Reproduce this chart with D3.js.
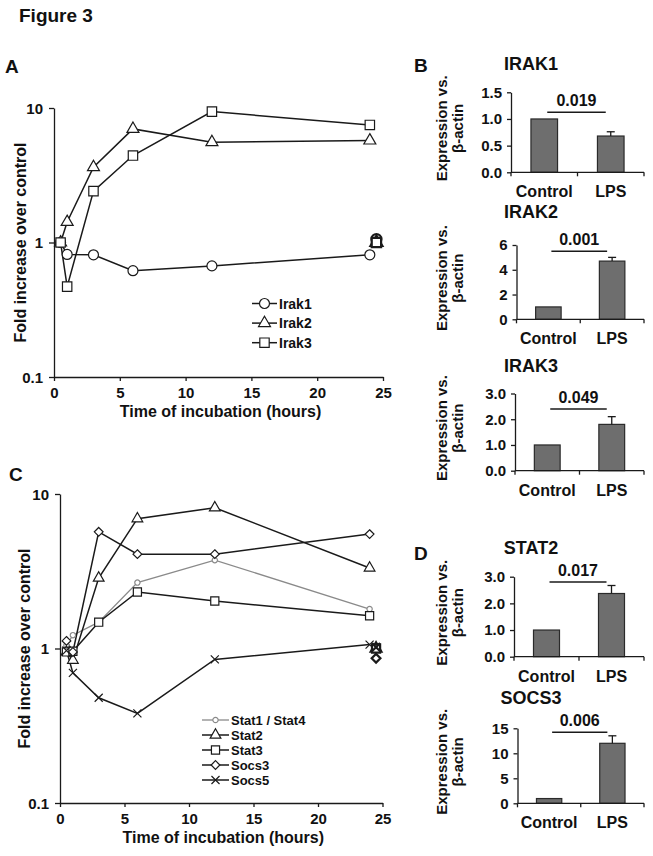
<!DOCTYPE html>
<html><head><meta charset="utf-8">
<script src="https://cdn.jsdelivr.net/npm/d3@7"></script>
<style>
html,body{margin:0;padding:0;background:#fff;}
svg text{font-family:"Liberation Sans",Arial,sans-serif;font-weight:bold;fill:#111;}
</style></head>
<body>
<svg id="fig" width="653" height="856"></svg>
<script>
// ---------- DATA ----------
const hoursA = [0.5, 1, 3, 6, 12, 24];
const irak1 = [1.0, 0.815, 0.81, 0.617, 0.67, 0.81];
const irak2 = [1.0, 1.42, 3.63, 6.99, 5.57, 5.73];
const irak3 = [1.0, 0.47, 2.41, 4.43, 9.4, 7.48];
const seriesNamesA = ["Irak1", "Irak2", "Irak3"];
const controlHour = 24.5;
const controlsA = [1.06, 1.0, 1.0];

const hoursC = [0.5, 1, 3, 6, 12, 24];
const stat1stat4 = [1.05, 1.22, 1.48, 2.67, 3.73, 1.8];
const stat2 = [0.95, 0.84, 2.86, 6.92, 8.15, 3.32];
const stat3 = [0.95, 0.96, 1.48, 2.32, 2.03, 1.63];
const socs3 = [1.12, 0.95, 5.69, 4.08, 4.08, 5.5];
const socs5 = [0.97, 0.695, 0.48, 0.38, 0.85, 1.06];
const seriesNamesC = ["Stat1 / Stat4", "Stat2", "Stat3", "Socs3", "Socs5"];
const controlsC = [1.0, 1.0, 1.0, 0.865, 1.02];

const timeTicks = [0, 5, 10, 15, 20, 25];
const foldTicks = [0.1, 1, 10];

const barGenes = ["IRAK1", "IRAK2", "IRAK3", "STAT2", "SOCS3"];
const barGroups = ["Control", "LPS"];
const controlVals = [1, 1, 1, 1, 0.95];
const lpsVals = [0.68, 4.7, 1.8, 2.37, 12.0];
const lpsErr = [0.08, 0.3, 0.3, 0.3, 1.5];
const pValues = ["0.019", "0.001", "0.049", "0.017", "0.006"];
const sigLevel = [1.125, 5.5, 2.4, 2.8, 14.2];
const barYMax = [1.5, 6, 3, 3, 15];
const barYTicks = [[0, 0.5, 1, 1.5], [0, 2, 4, 6], [0, 1, 2, 3], [0, 1, 2, 3], [0, 5, 10, 15]];
const barYDecimals = [1, 0, 1, 1, 0];

// ---------- DRAW ----------
const svg = d3.select("#fig");
const INK = "#1a1a1a";

svg.append("text").attr("x", 19).attr("y", 22).attr("font-size", 19).text("Figure 3");

function txt(g, x, y, s, size, anchor) {
  return g.append("text").attr("x", x).attr("y", y).attr("font-size", size)
    .attr("text-anchor", anchor || "start").text(s);
}

function marker(g, kind, x, y, opts) {
  const o = Object.assign({size: 1, stroke: INK, sw: 1.2, fill: "#fff"}, opts || {});
  let p;
  if (kind === "circle") p = d3.symbol(d3.symbolCircle, 78 * o.size)();
  else if (kind === "smallcircle") p = d3.symbol(d3.symbolCircle, 22 * o.size)();
  else if (kind === "triangle") p = d3.symbol(d3.symbolTriangle, 62 * o.size)();
  else if (kind === "square") p = d3.symbol(d3.symbolSquare, 88 * o.size)();
  else if (kind === "diamond") { const s = 4.6 * Math.sqrt(o.size); p = `M0,${-s}L${s},0L0,${s}L${-s},0Z`; }
  else if (kind === "x") { const s = 4.5 * Math.sqrt(o.size); p = `M${-s},${-s}L${s},${s}M${-s},${s}L${s},${-s}`; }
  g.append("path").attr("d", p).attr("transform", `translate(${x},${y})`)
    .attr("fill", kind === "x" ? "none" : o.fill).attr("stroke", o.stroke).attr("stroke-width", o.sw);
}

function linePanel(cfg) {
  const g = svg.append("g");
  const x = d3.scaleLinear().domain([0, 25]).range([cfg.x0, cfg.x1]);
  const y = d3.scaleLog().domain([0.1, 10]).range([cfg.yBottom, cfg.yTop]);
  const ax = g.append("g").attr("transform", `translate(0,${cfg.yBottom})`)
    .call(d3.axisBottom(x).tickValues(timeTicks).tickSize(4).tickSizeOuter(0).tickPadding(6).tickFormat(d3.format("d")));
  const ay = g.append("g").attr("transform", `translate(${cfg.x0},0)`)
    .call(d3.axisLeft(y).tickValues(foldTicks).tickSize(5).tickSizeOuter(0).tickPadding(6).tickFormat(d => String(d)));
  [ax, ay].forEach(a => {
    a.selectAll("path,line").attr("stroke", INK).attr("stroke-width", 1.3);
    a.selectAll("text").attr("font-size", 15).attr("font-family", "Liberation Sans, Arial").attr("font-weight", "bold").attr("fill", "#111");
  });
  ay.selectAll("text").attr("dy", "0.35em");
  txt(g, (cfg.x0 + cfg.x1) / 2 + 2, cfg.yBottom + 40, "Time of incubation (hours)", 16, "middle");
  g.append("text").attr("transform", `translate(${cfg.yTitleX},${(cfg.yTop + cfg.yBottom) / 2}) rotate(-90)`)
    .attr("text-anchor", "middle").attr("font-size", 16).text("Fold increase over control");
  txt(g, cfg.labelX, cfg.labelY, cfg.label, 19);

  const line = d3.line().x(d => x(d[0])).y(d => y(d[1]));
  cfg.series.forEach(s => {
    const pts = cfg.hours.map((h, i) => [h, s.values[i]]);
    g.append("path").attr("d", line(pts)).attr("fill", "none")
      .attr("stroke", s.color || INK).attr("stroke-width", s.width || 1.5);
  });
  cfg.series.forEach(s => {
    cfg.hours.forEach((h, i) => marker(g, s.kind, x(h), y(s.values[i]), {stroke: s.color || INK, size: s.msize || 1}));
  });
  cfg.series.forEach((s, i) => {
    marker(g, s.kind, x(controlHour), y(cfg.controls[i]), {stroke: INK, sw: 2.2, size: s.msize || 1});
  });
  cfg.series.forEach((s, i) => {
    const ly = cfg.legY + i * cfg.legDy;
    g.append("line").attr("x1", cfg.legX).attr("x2", cfg.legX + cfg.legW).attr("y1", ly).attr("y2", ly)
      .attr("stroke", s.color || INK).attr("stroke-width", s.width || 1.5);
    marker(g, s.kind, cfg.legX + cfg.legW / 2, ly, {stroke: s.color || INK, size: s.msize || 1});
    txt(g, cfg.legX + cfg.legW + 2, ly + 5, s.name, cfg.legFont);
  });
}

linePanel({
  x0: 54, x1: 383, yTop: 108, yBottom: 377, yTitleX: 26, label: "A", labelX: 5, labelY: 73,
  hours: hoursA, controls: controlsA,
  series: [
    {name: seriesNamesA[0], values: irak1, kind: "circle"},
    {name: seriesNamesA[1], values: irak2, kind: "triangle"},
    {name: seriesNamesA[2], values: irak3, kind: "square"}
  ],
  legX: 252, legW: 25, legY: 303.5, legDy: 19.6, legFont: 14
});

linePanel({
  x0: 60, x1: 382.5, yTop: 494, yBottom: 803, yTitleX: 30, label: "C", labelX: 9, labelY: 481,
  hours: hoursC, controls: controlsC,
  series: [
    {name: seriesNamesC[0], values: stat1stat4, kind: "smallcircle", color: "#8a8a8a", width: 1.3},
    {name: seriesNamesC[1], values: stat2, kind: "triangle", msize: 0.8},
    {name: seriesNamesC[2], values: stat3, kind: "square", msize: 0.75},
    {name: seriesNamesC[3], values: socs3, kind: "diamond", msize: 0.9},
    {name: seriesNamesC[4], values: socs5, kind: "x", msize: 0.8}
  ],
  legX: 202, legW: 27, legY: 720, legDy: 15, legFont: 13
});

const barLayout = [
  {x0: 511, top: 92.3, bottom: 172.3, titleY: 70},
  {x0: 516.5, top: 245, bottom: 319.3, titleY: 218},
  {x0: 515, top: 393.5, bottom: 470.7, titleY: 372},
  {x0: 514, top: 576.7, bottom: 656.7, titleY: 554},
  {x0: 517.5, top: 728.3, bottom: 803.3, titleY: 704}
];
const X1 = 644;
barGenes.forEach((gene, k) => {
  const L = barLayout[k];
  const g = svg.append("g");
  const x = d3.scaleBand().domain(barGroups).range([L.x0, X1]).paddingInner(0.6).paddingOuter(0.3);
  const y = d3.scaleLinear().domain([0, barYMax[k]]).range([L.bottom, L.top]);
  const vals = [controlVals[k], lpsVals[k]];
  g.selectAll("rect").data(barGroups).join("rect")
    .attr("x", d => x(d)).attr("width", x.bandwidth())
    .attr("y", (d, i) => y(vals[i])).attr("height", (d, i) => y(0) - y(vals[i]))
    .attr("fill", "#6e6e6e").attr("stroke", "#2a2a2a").attr("stroke-width", 1.2);
  const ex = x("LPS") + x.bandwidth() / 2;
  g.append("line").attr("x1", ex).attr("x2", ex).attr("y1", y(lpsVals[k])).attr("y2", y(lpsVals[k] + lpsErr[k]))
    .attr("stroke", INK).attr("stroke-width", 1.3);
  g.append("line").attr("x1", ex - 4).attr("x2", ex + 4).attr("y1", y(lpsVals[k] + lpsErr[k])).attr("y2", y(lpsVals[k] + lpsErr[k]))
    .attr("stroke", INK).attr("stroke-width", 1.3);
  const ay = g.append("g").attr("transform", `translate(${L.x0},0)`)
    .call(d3.axisLeft(y).tickValues(barYTicks[k]).tickSize(4).tickSizeOuter(0).tickPadding(5)
      .tickFormat(d3.format(`.${barYDecimals[k]}f`)));
  const xb = g.append("g").attr("transform", `translate(0,${L.bottom})`);
  xb.append("line").attr("x1", L.x0).attr("x2", X1).attr("stroke", INK).attr("stroke-width", 1.3);
  [L.x0, (L.x0 + X1) / 2, X1].forEach(t => xb.append("line").attr("x1", t).attr("x2", t).attr("y1", 0).attr("y2", 4)
    .attr("stroke", INK).attr("stroke-width", 1.3));
  ay.selectAll("path,line").attr("stroke", INK).attr("stroke-width", 1.3);
  ay.selectAll("text").attr("font-size", 15).attr("font-family", "Liberation Sans, Arial").attr("font-weight", "bold").attr("fill", "#111");
  barGroups.forEach(c => txt(g, x(c) + x.bandwidth() / 2, L.bottom + 25, c, 16, "middle"));
  txt(g, 531, L.titleY, gene, 18, "middle");
  const yt = g.append("g").attr("transform", `translate(447,${(L.top + L.bottom) / 2 - 4}) rotate(-90)`);
  yt.append("text").attr("text-anchor", "middle").attr("font-size", 15).text("Expression vs.");
  yt.append("text").attr("text-anchor", "middle").attr("font-size", 15).attr("y", 16).text("β-actin");
  const sx1 = x("Control") + x.bandwidth() / 2 + 3, sx2 = x("LPS") + x.bandwidth() / 2 - 5;
  g.append("line").attr("x1", sx1).attr("x2", sx2).attr("y1", y(sigLevel[k])).attr("y2", y(sigLevel[k]))
    .attr("stroke", INK).attr("stroke-width", 1.5);
  txt(g, (sx1 + sx2) / 2, y(sigLevel[k]) - 6, pValues[k], 16, "middle");
});
txt(svg, 414, 72, "B", 19);
txt(svg, 414, 560, "D", 19);
</script>
</body></html>
